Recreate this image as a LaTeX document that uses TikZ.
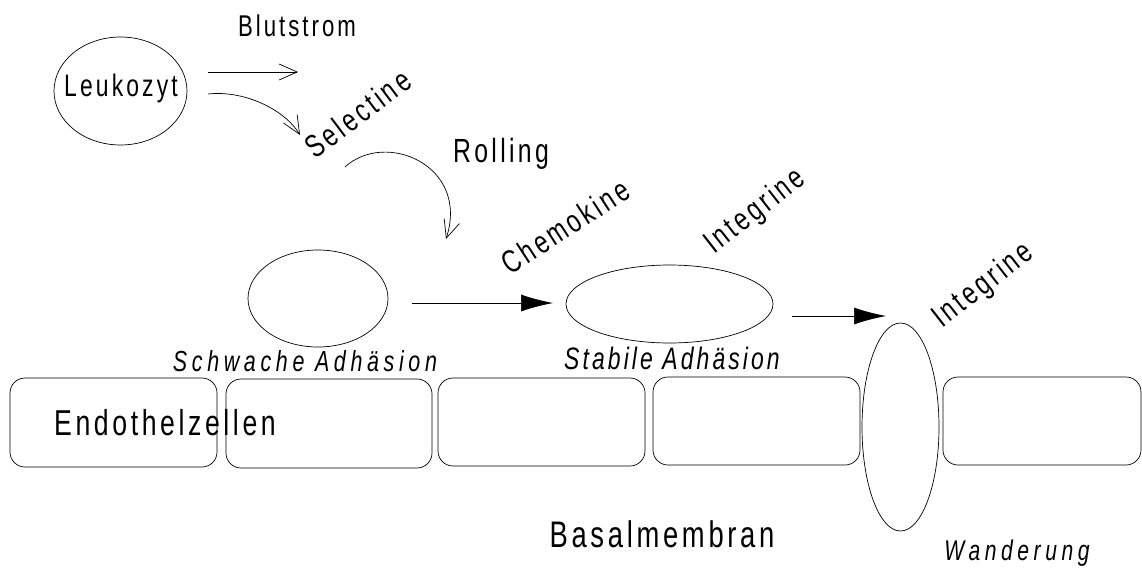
\documentclass[tikz,border=0pt]{standalone}
\usepackage{fontspec}
\setmainfont{Liberation Sans}
\newfontfamily\af[FakeStretch=0.74,LetterSpace=10]{Liberation Sans}
\newfontfamily\afw[FakeStretch=0.74,LetterSpace=16]{Liberation Sans}
\usetikzlibrary{shapes.geometric,arrows.meta}
\begin{document}
\begin{tikzpicture}[x=1pt,y=-1pt,line width=0.7pt,
  lbl/.style={inner sep=0pt,anchor=base},
  rlbl/.style={inner sep=0pt,anchor=base west},
  cell/.style={draw,rounded corners=15pt,inner sep=0pt,minimum height=89pt},
  oval/.style={draw,ellipse,inner sep=0pt},
  openarrow/.style={-{Straight Barb[length=18pt,width=16pt,line width=0.7pt]}},
  fillarrow/.style={-{Latex[length=32pt,width=17pt]}}]
\path[use as bounding box] (0,0) rectangle (1142,567);
% cells
\node[cell,minimum width=207pt] (c1) at (113.5,422.5) {};
\node[cell,minimum width=206pt] (c2) at (329,423.5) {};
\node[cell,minimum width=207pt,minimum height=88pt] (c3) at (541.5,422) {};
\node[cell,minimum width=207pt,minimum height=88pt] (c4) at (756.5,421) {};
\node[cell,minimum width=198pt,minimum height=88pt] (c5) at (1042,421) {};
% ellipses
\node[oval,minimum width=133pt,minimum height=108pt] (leuk) at (120.5,91) {};
\node[oval,minimum width=140pt,minimum height=97pt] (weak) at (318,298.5) {};
\node[oval,minimum width=207pt,minimum height=78pt] (stable) at (669.5,304) {};
\node[oval,minimum width=77pt,minimum height=208pt] (migr) at (900.5,427) {};
% texts
\node[lbl,font=\af\fontsize{31}{33}\selectfont] (leuktxt) at (121,97) {Leukozyt};
\node[lbl,font=\af\fontsize{30}{32}\selectfont] (blut) at (297,36.7) {Blutstrom};
\node[rlbl,rotate=37,font=\af\fontsize{32}{34}\selectfont] (sel) at (315,160) {Selectine};
\node[lbl,font=\af\fontsize{33.5}{35}\selectfont] (roll) at (501,162) {Rolling};
\node[rlbl,rotate=33,font=\af\fontsize{32}{34}\selectfont] (chem) at (510,276) {Chemokine};
\node[rlbl,rotate=38,font=\af\fontsize{32}{34}\selectfont] (int1) at (714,255) {Integrine};
\node[rlbl,rotate=38,font=\af\fontsize{32}{34}\selectfont] (int2) at (942,329) {Integrine};
\node[lbl,font=\afw\itshape\fontsize{29}{31}\selectfont] (weaktxt) at (305,371) {Schwache Adhäsion};
\node[lbl,font=\af\itshape\fontsize{31}{33}\selectfont] (stabtxt) at (672,369) {Stabile Adhäsion};
\node[lbl,font=\af\fontsize{36}{38}\selectfont] (endo) at (165,435) {Endothelzellen};
\node[lbl,font=\af\fontsize{37}{39}\selectfont] (basal) at (662,547) {Basalmembran};
\node[lbl,font=\afw\itshape\fontsize{28.5}{30}\selectfont] (wand) at (1017,560) {Wanderung};
% arrows
\coordinate (a1s) at (208,72);  \coordinate (a1e) at (298,72);
\coordinate (a2s) at (208,94);  \coordinate (a2e) at (300,135);
\coordinate (a3s) at (345,167); \coordinate (a3e) at (446,239);
\coordinate (a4s) at (412,303); \coordinate (a4e) at (553,303);
\coordinate (a5s) at (792,316); \coordinate (a5e) at (886,316);
\draw[openarrow] (a1s) -- (a1e);
\draw[openarrow] (a2s) .. controls (245,90) and (285,110) .. (a2e);
\draw[openarrow] (a3s) .. controls (385,130) and (470,165) .. (a3e);
\draw[fillarrow] (a4s) -- (a4e);
\draw[fillarrow] (a5s) -- (a5e);
\end{tikzpicture}
\end{document}
